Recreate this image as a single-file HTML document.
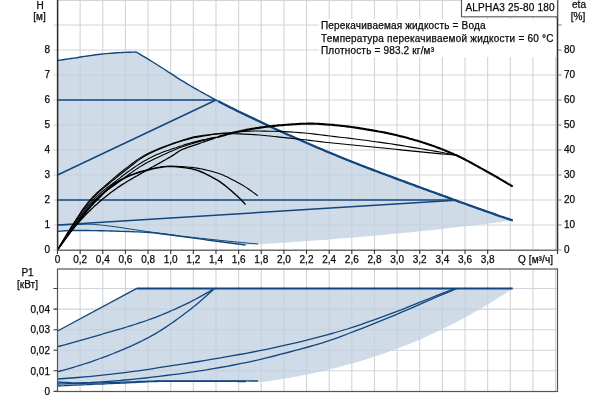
<!DOCTYPE html>
<html lang="ru"><head><meta charset="utf-8"><title>ALPHA3 25-80 180</title>
<style>html,body{margin:0;padding:0;background:#fff}svg{display:block}</style></head>
<body>
<svg width="600" height="400" viewBox="0 0 600 400">
<rect width="600" height="400" fill="#fff"/>
<path d="M80.14,0V250 M80.14,269V391.5 M102.78,0V250 M102.78,269V391.5 M125.42,0V250 M125.42,269V391.5 M148.06,0V250 M148.06,269V391.5 M170.70,0V250 M170.70,269V391.5 M193.34,0V250 M193.34,269V391.5 M215.98,0V250 M215.98,269V391.5 M238.62,0V250 M238.62,269V391.5 M261.26,0V250 M261.26,269V391.5 M283.90,0V250 M283.90,269V391.5 M306.54,0V250 M306.54,269V391.5 M329.18,0V250 M329.18,269V391.5 M351.82,0V250 M351.82,269V391.5 M374.46,0V250 M374.46,269V391.5 M397.10,0V250 M397.10,269V391.5 M419.74,0V250 M419.74,269V391.5 M442.38,0V250 M442.38,269V391.5 M465.02,0V250 M465.02,269V391.5 M487.66,0V250 M487.66,269V391.5 M510.30,0V250 M510.30,269V391.5 M532.94,0V250 M532.94,269V391.5 M555.58,0V250 M555.58,269V391.5 M57.5,0.5H557.5 M53.5,25.0H561.5 M53.5,50.0H561.5 M53.5,75.0H561.5 M53.5,100.0H561.5 M53.5,125.0H561.5 M53.5,150.0H561.5 M53.5,175.0H561.5 M53.5,200.0H561.5 M53.5,225.0H561.5" stroke="#d1d4d8" stroke-width="1.1" fill="none"/>
<path d="M53.5,370.8H557.5 M53.5,350.2H557.5 M53.5,329.7H557.5 M53.5,309.1H557.5 M53.5,288.5H557.5" stroke="#d1d4d8" stroke-width="1.1" fill="none"/>
<rect x="319" y="19" width="238" height="38" fill="#fff"/>
<path d="M57.5,60.5 L60.2,60.1 L62.9,59.7 L65.6,59.3 L68.4,58.9 L71.1,58.5 L73.8,58.1 L76.5,57.7 L79.2,57.2 L81.9,56.8 L84.6,56.4 L87.4,56.0 L90.1,55.6 L92.8,55.2 L95.5,54.8 L98.2,54.5 L100.9,54.2 L103.6,53.9 L106.3,53.6 L109.1,53.4 L111.8,53.2 L114.5,53.0 L117.2,52.8 L119.9,52.6 L122.6,52.5 L125.3,52.4 L128.1,52.3 L130.8,52.2 L133.5,52.1 L136.2,52.0 L139.4,53.9 L142.5,55.8 L145.7,57.7 L148.9,59.6 L152.0,61.5 L155.2,63.5 L158.3,65.5 L161.5,67.5 L164.7,69.5 L167.8,71.6 L171.0,73.6 L174.2,75.7 L177.3,77.8 L180.5,79.8 L183.7,81.7 L186.8,83.6 L190.0,85.5 L193.1,87.3 L196.3,89.1 L199.5,91.0 L202.6,92.7 L205.8,94.5 L209.0,96.2 L212.1,97.9 L215.3,99.6 L218.5,101.3 L221.6,102.9 L224.8,104.6 L228.0,106.2 L231.1,107.8 L234.3,109.3 L237.4,110.9 L240.6,112.4 L243.8,114.0 L246.9,115.5 L250.1,117.0 L253.3,118.5 L256.4,120.0 L259.6,121.5 L262.8,123.0 L265.9,124.5 L269.1,126.0 L272.2,127.5 L275.4,128.9 L278.6,130.4 L281.7,131.8 L284.9,133.3 L288.1,134.7 L291.2,136.1 L294.4,137.5 L297.6,138.9 L300.7,140.3 L303.9,141.7 L307.0,143.1 L310.2,144.4 L313.4,145.8 L316.5,147.2 L319.7,148.5 L322.9,149.8 L326.0,151.2 L329.2,152.5 L332.4,153.8 L335.5,155.1 L338.7,156.4 L341.9,157.7 L345.0,159.0 L348.2,160.3 L351.3,161.5 L354.5,162.8 L357.7,164.0 L360.8,165.3 L364.0,166.5 L367.2,167.7 L370.3,168.9 L373.5,170.1 L376.7,171.3 L379.8,172.5 L383.0,173.7 L386.1,174.8 L389.3,176.0 L392.5,177.2 L395.6,178.4 L398.8,179.6 L402.0,180.7 L405.1,181.9 L408.3,183.1 L411.5,184.2 L414.6,185.4 L417.8,186.6 L420.9,187.7 L424.1,188.9 L427.3,190.0 L430.4,191.2 L433.6,192.3 L436.8,193.5 L439.9,194.6 L443.1,195.8 L446.3,196.9 L449.4,198.1 L452.6,199.3 L455.8,200.4 L458.9,201.6 L462.1,202.7 L465.2,203.8 L468.4,205.0 L471.6,206.1 L474.7,207.2 L477.9,208.4 L481.1,209.5 L484.2,210.6 L487.4,211.7 L490.6,212.8 L493.7,213.9 L496.9,215.1 L500.0,216.2 L503.2,217.2 L506.4,218.3 L509.5,219.4 L512.7,220.5 L512.7,220.5 L508.4,221.1 L504.1,221.6 L499.7,222.2 L495.4,222.7 L491.1,223.2 L486.8,223.8 L482.5,224.3 L478.2,224.8 L473.8,225.3 L469.5,225.8 L465.2,226.3 L460.9,226.8 L456.6,227.3 L452.3,227.8 L447.9,228.3 L443.6,228.8 L439.3,229.2 L435.0,229.7 L430.7,230.2 L426.4,230.6 L422.0,231.1 L417.7,231.5 L413.4,232.0 L409.1,232.4 L404.8,232.8 L400.5,233.3 L396.1,233.7 L391.8,234.1 L387.5,234.5 L383.2,234.9 L378.9,235.3 L374.6,235.7 L370.2,236.1 L365.9,236.5 L361.6,236.8 L357.3,237.2 L353.0,237.6 L348.7,237.9 L344.3,238.3 L340.0,238.6 L335.7,239.0 L331.4,239.3 L327.1,239.7 L322.8,240.0 L318.4,240.3 L314.1,240.6 L309.8,240.9 L305.5,241.2 L301.2,241.5 L296.9,241.8 L292.5,242.1 L288.2,242.4 L283.9,242.7 L279.6,243.0 L275.3,243.2 L271.0,243.5 L266.6,243.8 L262.3,244.0 L258.0,244.3 L258.0,244.0 L245.6,245.0 L245.6,245.0 L241.8,244.5 L237.9,244.0 L234.1,243.5 L230.2,243.0 L226.4,242.5 L222.6,242.0 L218.7,241.5 L214.9,241.0 L211.1,240.5 L207.2,240.0 L203.4,239.4 L199.5,238.9 L195.7,238.4 L191.9,237.9 L188.0,237.4 L184.2,236.9 L180.3,236.4 L176.5,235.8 L172.7,235.3 L168.8,234.8 L165.0,234.3 L161.1,233.7 L157.3,233.2 L153.5,232.8 L149.6,232.5 L145.8,232.3 L142.0,232.1 L138.1,231.9 L134.3,231.8 L130.4,231.6 L126.6,231.5 L122.8,231.4 L118.9,231.3 L115.1,231.1 L111.2,231.0 L107.4,230.9 L103.6,230.8 L99.7,230.7 L95.9,230.6 L92.0,230.6 L88.2,230.5 L84.4,230.5 L80.5,230.5 L76.7,230.5 L72.9,230.5 L69.0,230.6 L65.2,230.8 L61.3,231.1 L57.5,231.4Z" fill="rgba(192,208,224,0.76)"/>
<path d="M57.5,331.0 L136.8,288.4 L512.7,288.4 L512.7,288.4 L508.4,291.3 L504.1,294.2 L499.7,296.9 L495.4,299.7 L491.1,302.4 L486.8,305.0 L482.5,307.6 L478.2,310.1 L473.8,312.6 L469.5,315.0 L465.2,317.4 L460.9,319.7 L456.6,322.0 L452.3,324.2 L447.9,326.4 L443.6,328.5 L439.3,330.6 L435.0,332.7 L430.7,334.6 L426.4,336.6 L422.0,338.5 L417.7,340.4 L413.4,342.2 L409.1,343.9 L404.8,345.7 L400.5,347.3 L396.1,349.0 L391.8,350.6 L387.5,352.2 L383.2,353.7 L378.9,355.2 L374.6,356.6 L370.2,358.0 L365.9,359.4 L361.6,360.7 L357.3,362.0 L353.0,363.2 L348.7,364.4 L344.3,365.6 L340.0,366.8 L335.7,367.9 L331.4,369.0 L327.1,370.0 L322.8,371.0 L318.4,372.0 L314.1,372.9 L309.8,373.9 L305.5,374.7 L301.2,375.6 L296.9,376.4 L292.5,377.2 L288.2,378.0 L283.9,378.7 L279.6,379.4 L275.3,380.1 L271.0,380.8 L266.6,381.4 L262.3,382.0 L258.0,382.6 L258.0,381.0 L246.0,381.5 L246.0,381.5 L242.8,381.5 L239.6,381.5 L236.4,381.4 L233.2,381.4 L230.0,381.4 L226.8,381.4 L223.6,381.4 L220.4,381.4 L217.2,381.3 L214.1,381.3 L210.9,381.3 L207.7,381.3 L204.5,381.3 L201.3,381.3 L198.1,381.3 L194.9,381.3 L191.7,381.3 L188.5,381.3 L185.3,381.3 L182.1,381.3 L178.9,381.3 L175.7,381.3 L172.5,381.3 L169.3,381.3 L166.1,381.3 L162.9,381.4 L159.7,381.4 L156.5,381.5 L153.3,381.6 L150.2,381.7 L147.0,381.9 L143.8,382.0 L140.6,382.1 L137.4,382.3 L134.2,382.5 L131.0,382.6 L127.8,382.8 L124.6,383.0 L121.4,383.1 L118.2,383.3 L115.0,383.4 L111.8,383.5 L108.6,383.7 L105.4,383.8 L102.2,384.0 L99.0,384.1 L95.8,384.2 L92.6,384.4 L89.4,384.5 L86.3,384.7 L83.1,384.8 L79.9,384.9 L76.7,385.1 L73.5,385.2 L70.3,385.4 L67.1,385.5 L63.9,385.7 L60.7,385.8 L57.5,386.0Z" fill="rgba(192,208,224,0.76)"/>
<path d="M57.5,60.5 L60.2,60.1 L62.9,59.7 L65.6,59.3 L68.4,58.9 L71.1,58.5 L73.8,58.1 L76.5,57.7 L79.2,57.2 L81.9,56.8 L84.6,56.4 L87.4,56.0 L90.1,55.6 L92.8,55.2 L95.5,54.8 L98.2,54.5 L100.9,54.2 L103.6,53.9 L106.3,53.6 L109.1,53.4 L111.8,53.2 L114.5,53.0 L117.2,52.8 L119.9,52.6 L122.6,52.5 L125.3,52.4 L128.1,52.3 L130.8,52.2 L133.5,52.1 L136.2,52.0 L139.4,53.9 L142.5,55.8 L145.7,57.7 L148.9,59.6 L152.0,61.5 L155.2,63.5 L158.3,65.5 L161.5,67.5 L164.7,69.5 L167.8,71.6 L171.0,73.6 L174.2,75.7 L177.3,77.8 L180.5,79.8 L183.7,81.7 L186.8,83.6 L190.0,85.5 L193.1,87.3 L196.3,89.1 L199.5,91.0 L202.6,92.7 L205.8,94.5 L209.0,96.2 L212.1,97.9 L215.3,99.6 L218.5,101.3 L221.6,102.9 L224.8,104.6 L228.0,106.2 L231.1,107.8 L234.3,109.3 L237.4,110.9 L240.6,112.4 L243.8,114.0 L246.9,115.5 L250.1,117.0 L253.3,118.5 L256.4,120.0 L259.6,121.5 L262.8,123.0 L265.9,124.5 L269.1,126.0 L272.2,127.5 L275.4,128.9 L278.6,130.4 L281.7,131.8 L284.9,133.3 L288.1,134.7 L291.2,136.1 L294.4,137.5 L297.6,138.9 L300.7,140.3 L303.9,141.7 L307.0,143.1 L310.2,144.4 L313.4,145.8 L316.5,147.2 L319.7,148.5 L322.9,149.8 L326.0,151.2 L329.2,152.5 L332.4,153.8 L335.5,155.1 L338.7,156.4 L341.9,157.7 L345.0,159.0 L348.2,160.3 L351.3,161.5 L354.5,162.8 L357.7,164.0 L360.8,165.3 L364.0,166.5 L367.2,167.7 L370.3,168.9 L373.5,170.1 L376.7,171.3 L379.8,172.5 L383.0,173.7 L386.1,174.8 L389.3,176.0 L392.5,177.2 L395.6,178.4 L398.8,179.6 L402.0,180.7 L405.1,181.9 L408.3,183.1 L411.5,184.2 L414.6,185.4 L417.8,186.6 L420.9,187.7 L424.1,188.9 L427.3,190.0 L430.4,191.2 L433.6,192.3 L436.8,193.5 L439.9,194.6 L443.1,195.8 L446.3,196.9 L449.4,198.1 L452.6,199.3 L455.8,200.4 L458.9,201.6 L462.1,202.7 L465.2,203.8 L468.4,205.0 L471.6,206.1 L474.7,207.2 L477.9,208.4 L481.1,209.5 L484.2,210.6 L487.4,211.7 L490.6,212.8 L493.7,213.9 L496.9,215.1 L500.0,216.2 L503.2,217.2 L506.4,218.3 L509.5,219.4 L512.7,220.5" stroke="#11467f" stroke-width="1.4" fill="none" stroke-linejoin="round"/>
<path d="M218.5,101.3 L221.6,102.9 L224.8,104.6 L228.0,106.2 L231.1,107.8 L234.3,109.3 L237.4,110.9 L240.6,112.4 L243.8,114.0 L246.9,115.5 L250.1,117.0 L253.3,118.5 L256.4,120.0 L259.6,121.5 L262.8,123.0 L265.9,124.5 L269.1,126.0 L272.2,127.5 L275.4,128.9 L278.6,130.4 L281.7,131.8 L284.9,133.3 L288.1,134.7 L291.2,136.1 L294.4,137.5 L297.6,138.9 L300.7,140.3 L303.9,141.7 L307.0,143.1 L310.2,144.4 L313.4,145.8 L316.5,147.2 L319.7,148.5 L322.9,149.8 L326.0,151.2 L329.2,152.5 L332.4,153.8 L335.5,155.1 L338.7,156.4 L341.9,157.7 L345.0,159.0 L348.2,160.3 L351.3,161.5 L354.5,162.8 L357.7,164.0 L360.8,165.3 L364.0,166.5 L367.2,167.7 L370.3,168.9 L373.5,170.1 L376.7,171.3 L379.8,172.5 L383.0,173.7 L386.1,174.8 L389.3,176.0 L392.5,177.2 L395.6,178.4 L398.8,179.6 L402.0,180.7 L405.1,181.9 L408.3,183.1 L411.5,184.2 L414.6,185.4 L417.8,186.6 L420.9,187.7 L424.1,188.9 L427.3,190.0 L430.4,191.2 L433.6,192.3 L436.8,193.5 L439.9,194.6 L443.1,195.8 L446.3,196.9 L449.4,198.1 L452.6,199.3 L455.8,200.4 L458.9,201.6 L462.1,202.7 L465.2,203.8 L468.4,205.0 L471.6,206.1 L474.7,207.2 L477.9,208.4 L481.1,209.5 L484.2,210.6 L487.4,211.7 L490.6,212.8 L493.7,213.9 L496.9,215.1 L500.0,216.2 L503.2,217.2 L506.4,218.3 L509.5,219.4 L512.7,220.5" stroke="#11467f" stroke-width="2.2" fill="none" stroke-linejoin="round"/>
<path d="M57.5,100H216" stroke="#11467f" stroke-width="1.6" fill="none" stroke-linejoin="round"/>
<path d="M57.5,175L216,100" stroke="#11467f" stroke-width="1.4" fill="none" stroke-linejoin="round"/>
<path d="M57.5,200H456" stroke="#11467f" stroke-width="1.5" fill="none" stroke-linejoin="round"/>
<path d="M57.5,225L456,200.3" stroke="#11467f" stroke-width="1.4" fill="none" stroke-linejoin="round"/>
<path d="M57.5,231.4 L61.3,231.1 L65.2,230.8 L69.0,230.6 L72.9,230.5 L76.7,230.5 L80.5,230.5 L84.4,230.5 L88.2,230.5 L92.0,230.6 L95.9,230.6 L99.7,230.7 L103.6,230.8 L107.4,230.9 L111.2,231.0 L115.1,231.1 L118.9,231.3 L122.8,231.4 L126.6,231.5 L130.4,231.6 L134.3,231.8 L138.1,231.9 L142.0,232.1 L145.8,232.3 L149.6,232.5 L153.5,232.8 L157.3,233.2 L161.1,233.7 L165.0,234.3 L168.8,234.8 L172.7,235.3 L176.5,235.8 L180.3,236.4 L184.2,236.9 L188.0,237.4 L191.9,237.9 L195.7,238.4 L199.5,238.9 L203.4,239.4 L207.2,240.0 L211.1,240.5 L214.9,241.0 L218.7,241.5 L222.6,242.0 L226.4,242.5 L230.2,243.0 L234.1,243.5 L237.9,244.0 L241.8,244.5 L245.6,245.0" stroke="#11467f" stroke-width="1.4" fill="none" stroke-linejoin="round"/>
<path d="M57.5,225.0 L61.6,224.9 L65.7,224.8 L69.8,224.7 L73.9,224.6 L78.0,224.5 L82.1,224.4 L86.1,224.2 L90.2,224.2 L94.3,224.4 L98.4,224.8 L102.5,225.2 L106.6,225.7 L110.7,226.2 L114.8,226.7 L118.9,227.3 L123.0,227.9 L127.1,228.6 L131.2,229.2 L135.2,229.8 L139.3,230.4 L143.4,231.0 L147.5,231.6 L151.6,232.2 L155.7,232.8 L159.8,233.3 L163.9,233.8 L168.0,234.3 L172.1,234.9 L176.2,235.4 L180.3,235.9 L184.3,236.4 L188.4,236.9 L192.5,237.4 L196.6,237.8 L200.7,238.3 L204.8,238.7 L208.9,239.2 L213.0,239.6 L217.1,240.0 L221.2,240.5 L225.3,240.9 L229.4,241.3 L233.4,241.7 L237.5,242.1 L241.6,242.5 L245.7,242.9 L249.8,243.3 L253.9,243.6 L258.0,244.0" stroke="#11467f" stroke-width="1.0" fill="none" stroke-linejoin="round"/>
<path d="M57.5,331L136.8,288.4" stroke="#11467f" stroke-width="1.4" fill="none" stroke-linejoin="round"/>
<path d="M136.8,288.4H512.7" stroke="#11467f" stroke-width="2.0" fill="none" stroke-linejoin="round"/>
<path d="M57.5,346.7 L60.2,346.0 L62.8,345.3 L65.5,344.6 L68.1,343.8 L70.8,343.1 L73.5,342.4 L76.1,341.6 L78.8,340.9 L81.4,340.1 L84.1,339.4 L86.8,338.6 L89.4,337.9 L92.1,337.1 L94.8,336.3 L97.4,335.6 L100.1,334.8 L102.7,334.0 L105.4,333.2 L108.1,332.4 L110.7,331.7 L113.4,330.9 L116.0,330.1 L118.7,329.3 L121.4,328.6 L124.0,327.8 L126.7,327.0 L129.3,326.1 L132.0,325.3 L134.7,324.5 L137.3,323.6 L140.0,322.7 L142.7,321.9 L145.3,321.0 L148.0,320.0 L150.6,319.1 L153.3,318.1 L156.0,317.1 L158.6,316.1 L161.3,315.0 L163.9,313.9 L166.6,312.8 L169.3,311.7 L171.9,310.5 L174.6,309.4 L177.2,308.2 L179.9,306.9 L182.6,305.7 L185.2,304.4 L187.9,303.1 L190.6,301.8 L193.2,300.4 L195.9,299.0 L198.5,297.6 L201.2,296.1 L203.9,294.6 L206.5,293.1 L209.2,291.6 L211.8,290.0 L214.5,288.4" stroke="#11467f" stroke-width="1.3" fill="none" stroke-linejoin="round"/>
<path d="M57.5,371.7 L60.2,371.0 L62.8,370.3 L65.5,369.6 L68.1,368.9 L70.8,368.1 L73.5,367.3 L76.1,366.5 L78.8,365.7 L81.4,364.9 L84.1,364.0 L86.8,363.2 L89.4,362.3 L92.1,361.4 L94.8,360.4 L97.4,359.5 L100.1,358.5 L102.7,357.6 L105.4,356.6 L108.1,355.6 L110.7,354.5 L113.4,353.5 L116.0,352.4 L118.7,351.3 L121.4,350.2 L124.0,349.1 L126.7,347.9 L129.3,346.8 L132.0,345.6 L134.7,344.3 L137.3,343.1 L140.0,341.8 L142.7,340.5 L145.3,339.1 L148.0,337.8 L150.6,336.4 L153.3,334.9 L156.0,333.4 L158.6,331.8 L161.3,330.1 L163.9,328.4 L166.6,326.6 L169.3,324.8 L171.9,323.0 L174.6,321.1 L177.2,319.2 L179.9,317.3 L182.6,315.3 L185.2,313.3 L187.9,311.3 L190.6,309.2 L193.2,307.1 L195.9,304.9 L198.5,302.7 L201.2,300.4 L203.9,298.1 L206.5,295.7 L209.2,293.3 L211.8,290.9 L214.5,288.4" stroke="#11467f" stroke-width="1.3" fill="none" stroke-linejoin="round"/>
<path d="M57.5,379.0 L64.2,378.5 L71.0,378.0 L77.7,377.5 L84.4,376.9 L91.2,376.3 L97.9,375.6 L104.7,374.9 L111.4,374.2 L118.1,373.4 L124.9,372.6 L131.6,371.7 L138.3,370.8 L145.1,369.8 L151.8,368.8 L158.6,367.7 L165.3,366.7 L172.0,365.7 L178.8,364.7 L185.5,363.6 L192.2,362.5 L199.0,361.5 L205.7,360.4 L212.5,359.2 L219.2,358.1 L225.9,356.9 L232.7,355.7 L239.4,354.5 L246.1,353.3 L252.9,352.0 L259.6,350.7 L266.4,349.3 L273.1,347.9 L279.8,346.4 L286.6,344.9 L293.3,343.4 L300.0,341.8 L306.8,340.1 L313.5,338.4 L320.3,336.6 L327.0,334.8 L333.7,333.0 L340.5,331.0 L347.2,329.0 L353.9,326.8 L360.7,324.6 L367.4,322.2 L374.2,319.8 L380.9,317.4 L387.6,314.9 L394.4,312.3 L401.1,309.8 L407.8,307.1 L414.6,304.4 L421.3,301.7 L428.1,299.0 L434.8,296.3 L441.5,293.6 L448.3,291.0 L455.0,288.4" stroke="#11467f" stroke-width="1.3" fill="none" stroke-linejoin="round"/>
<path d="M57.5,382.0 L64.3,382.4 L71.0,382.7 L77.8,382.8 L84.6,382.7 L91.4,382.5 L98.1,382.1 L104.9,381.6 L111.7,381.1 L118.4,380.6 L125.2,380.0 L132.0,379.4 L138.8,378.7 L145.5,378.0 L152.3,377.2 L159.1,376.4 L165.8,375.5 L172.6,374.7 L179.4,373.8 L186.2,372.8 L192.9,371.9 L199.7,370.8 L206.5,369.8 L213.2,368.6 L220.0,367.5 L226.8,366.3 L233.6,365.0 L240.3,363.7 L247.1,362.4 L253.9,360.9 L260.6,359.3 L267.4,357.7 L274.2,356.0 L280.9,354.2 L287.7,352.5 L294.5,350.7 L301.3,348.9 L308.0,347.0 L314.8,345.1 L321.6,343.1 L328.3,340.9 L335.1,338.6 L341.9,336.1 L348.7,333.5 L355.4,330.9 L362.2,328.3 L369.0,325.6 L375.7,322.9 L382.5,320.1 L389.3,317.4 L396.1,314.6 L402.8,311.7 L409.6,308.8 L416.4,305.9 L423.1,302.9 L429.9,299.9 L436.7,297.0 L443.5,294.1 L450.2,291.3 L457.0,288.4" stroke="#11467f" stroke-width="1.3" fill="none" stroke-linejoin="round"/>
<path d="M57.5,384.0 L60.9,383.9 L64.3,383.8 L67.7,383.7 L71.1,383.6 L74.5,383.6 L77.9,383.5 L81.3,383.4 L84.7,383.3 L88.1,383.2 L91.5,383.1 L94.9,383.0 L98.3,382.9 L101.7,382.8 L105.1,382.7 L108.5,382.6 L111.9,382.5 L115.3,382.4 L118.7,382.3 L122.1,382.2 L125.5,382.1 L128.9,381.9 L132.3,381.8 L135.7,381.7 L139.1,381.5 L142.5,381.4 L145.9,381.3 L149.3,381.2 L152.7,381.1 L156.1,381.0 L159.4,380.9 L162.8,380.9 L166.2,380.8 L169.6,380.8 L173.0,380.8 L176.4,380.8 L179.8,380.8 L183.2,380.8 L186.6,380.8 L190.0,380.8 L193.4,380.8 L196.8,380.8 L200.2,380.8 L203.6,380.8 L207.0,380.8 L210.4,380.8 L213.8,380.8 L217.2,380.8 L220.6,380.8 L224.0,380.8 L227.4,380.9 L230.8,380.9 L234.2,380.9 L237.6,380.9 L241.0,380.9 L244.4,380.9 L247.8,380.9 L251.2,381.0 L254.6,381.0 L258.0,381.0" stroke="#11467f" stroke-width="1.3" fill="none" stroke-linejoin="round"/>
<path d="M57.5,386.0 L60.7,385.8 L63.9,385.7 L67.1,385.5 L70.3,385.4 L73.5,385.2 L76.7,385.1 L79.9,384.9 L83.1,384.8 L86.3,384.7 L89.4,384.5 L92.6,384.4 L95.8,384.2 L99.0,384.1 L102.2,384.0 L105.4,383.8 L108.6,383.7 L111.8,383.5 L115.0,383.4 L118.2,383.3 L121.4,383.1 L124.6,383.0 L127.8,382.8 L131.0,382.6 L134.2,382.5 L137.4,382.3 L140.6,382.1 L143.8,382.0 L147.0,381.9 L150.2,381.7 L153.3,381.6 L156.5,381.5 L159.7,381.4 L162.9,381.4 L166.1,381.3 L169.3,381.3 L172.5,381.3 L175.7,381.3 L178.9,381.3 L182.1,381.3 L185.3,381.3 L188.5,381.3 L191.7,381.3 L194.9,381.3 L198.1,381.3 L201.3,381.3 L204.5,381.3 L207.7,381.3 L210.9,381.3 L214.1,381.3 L217.2,381.3 L220.4,381.4 L223.6,381.4 L226.8,381.4 L230.0,381.4 L233.2,381.4 L236.4,381.4 L239.6,381.5 L242.8,381.5 L246.0,381.5" stroke="#11467f" stroke-width="1.3" fill="none" stroke-linejoin="round"/>
<path d="M57.5,250.0 L62.5,241.2 L67.6,232.8 L72.6,224.8 L77.7,217.0 L82.7,209.4 L87.8,202.6 L92.8,196.9 L97.9,192.0 L102.9,187.6 L108.0,183.1 L113.0,178.8 L118.1,174.5 L123.1,170.5 L128.2,166.6 L133.2,162.7 L138.2,159.1 L143.3,155.9 L148.3,153.3 L153.4,150.9 L158.4,148.8 L163.5,146.8 L168.5,144.9 L173.6,143.1 L178.6,141.5 L183.7,139.8 L188.7,138.2 L193.8,136.9 L198.8,136.1 L203.9,135.3 L208.9,134.7 L214.0,134.1 L219.0,133.6 L224.0,133.1 L229.1,132.7 L234.1,132.2 L239.2,131.8 L244.2,131.4 L249.3,131.1 L254.3,131.0 L259.4,131.0 L264.4,131.1 L269.5,131.2 L274.5,131.3 L279.6,131.4 L284.6,131.6 L289.7,131.9 L294.7,132.2 L299.7,132.6 L304.8,133.0 L309.8,133.5 L314.9,134.1 L319.9,134.8 L325.0,135.4 L330.0,136.0 L335.1,136.6 L340.1,137.2 L345.2,137.8 L350.2,138.4 L355.3,139.0 L360.3,139.7 L365.4,140.3 L370.4,141.0 L375.5,141.7 L380.5,142.4 L385.5,143.1 L390.6,143.8 L395.6,144.6 L400.7,145.4 L405.7,146.2 L410.8,147.1 L415.8,147.9 L420.9,148.7 L425.9,149.6 L431.0,150.5 L436.0,151.4 L441.1,152.3 L446.1,153.3 L451.2,154.2 L456.2,155.2" stroke="#000" stroke-width="1.1" fill="none" stroke-linejoin="round"/>
<path d="M57.5,250.0 L62.5,241.5 L67.6,233.3 L72.6,225.5 L77.7,218.0 L82.7,210.6 L87.8,203.8 L92.8,198.0 L97.9,193.1 L102.9,188.7 L108.0,184.5 L113.0,180.2 L118.1,176.2 L123.1,172.2 L128.2,168.3 L133.2,164.3 L138.2,160.4 L143.3,157.0 L148.3,154.2 L153.4,151.8 L158.4,149.6 L163.5,147.5 L168.5,145.6 L173.6,143.8 L178.6,142.1 L183.7,140.5 L188.7,139.1 L193.8,137.8 L198.8,136.9 L203.9,135.9 L208.9,135.1 L214.0,134.3 L219.0,133.8 L224.0,133.6 L229.1,133.6 L234.1,133.7 L239.2,133.9 L244.2,134.1 L249.3,134.4 L254.3,134.6 L259.4,135.0 L264.4,135.5 L269.5,136.0 L274.5,136.5 L279.6,137.1 L284.6,137.6 L289.7,138.1 L294.7,138.7 L299.7,139.3 L304.8,139.8 L309.8,140.4 L314.9,141.0 L319.9,141.6 L325.0,142.2 L330.0,142.7 L335.1,143.2 L340.1,143.8 L345.2,144.3 L350.2,144.8 L355.3,145.3 L360.3,145.7 L365.4,146.2 L370.4,146.7 L375.5,147.2 L380.5,147.8 L385.5,148.3 L390.6,148.8 L395.6,149.3 L400.7,149.9 L405.7,150.4 L410.8,150.9 L415.8,151.4 L420.9,151.9 L425.9,152.4 L431.0,152.9 L436.0,153.4 L441.1,153.9 L446.1,154.3 L451.2,154.8 L456.2,155.2" stroke="#000" stroke-width="1.1" fill="none" stroke-linejoin="round"/>
<path d="M57.5,250.0 L59.5,246.8 L61.5,243.6 L63.5,240.5 L65.5,237.4 L67.5,234.4 L69.5,231.4 L71.5,228.5 L73.6,225.6 L75.6,222.8 L77.6,219.9 L79.6,217.1 L81.6,214.2 L83.6,211.5 L85.6,208.8 L87.6,206.2 L89.6,203.8 L91.6,201.5 L93.6,199.4 L95.6,197.4 L97.6,195.6 L99.6,193.8 L101.6,192.1 L103.6,190.5 L105.7,188.9 L107.7,187.3 L109.7,185.8 L111.7,184.3 L113.7,182.7 L115.7,181.1 L117.7,179.6 L119.7,178.1 L121.7,176.5 L123.7,175.0 L125.7,173.5 L127.7,172.0 L129.7,170.6 L131.7,169.2 L133.7,167.8 L135.7,166.4 L137.8,165.1 L139.8,163.8 L141.8,162.5 L143.8,161.3 L145.8,160.2 L147.8,159.0 L149.8,158.0 L151.8,156.9 L153.8,156.0 L155.8,155.1 L157.8,154.2 L159.8,153.4 L161.8,152.6 L163.8,151.8 L165.8,151.1 L167.8,150.4 L169.9,149.7 L171.9,149.0 L173.9,148.3 L175.9,147.7 L177.9,147.0 L179.9,146.3 L181.9,145.7 L183.9,145.0 L185.9,144.4 L187.9,143.8 L189.9,143.2 L191.9,142.6 L193.9,142.1 L195.9,141.6 L197.9,141.1 L199.9,140.6 L202.0,140.1 L204.0,139.6 L206.0,139.2 L208.0,138.7 L210.0,138.3 L212.0,137.9 L214.0,137.6 L216.0,137.2" stroke="#000" stroke-width="1.1" fill="none" stroke-linejoin="round"/>
<path d="M57.5,250.0 L59.5,247.0 L61.5,244.0 L63.5,241.1 L65.5,238.2 L67.5,235.3 L69.5,232.5 L71.5,229.7 L73.6,226.9 L75.6,224.3 L77.6,221.5 L79.6,218.8 L81.6,216.1 L83.6,213.4 L85.6,210.8 L87.6,208.2 L89.6,205.8 L91.6,203.5 L93.6,201.4 L95.6,199.4 L97.6,197.6 L99.6,195.9 L101.6,194.3 L103.6,192.8 L105.7,191.3 L107.7,189.9 L109.7,188.5 L111.7,187.1 L113.7,185.7 L115.7,184.2 L117.7,182.8 L119.7,181.3 L121.7,179.8 L123.7,178.3 L125.7,176.8 L127.7,175.3 L129.7,173.8 L131.7,172.4 L133.7,171.0 L135.7,169.6 L137.8,168.2 L139.8,166.9 L141.8,165.7 L143.8,164.5 L145.8,163.3 L147.8,162.2 L149.8,161.2 L151.8,160.2 L153.8,159.2 L155.8,158.3 L157.8,157.4 L159.8,156.4 L161.8,155.5 L163.8,154.6 L165.8,153.7 L167.8,152.8 L169.9,151.8 L171.9,150.9 L173.9,150.1 L175.9,149.2 L177.9,148.4 L179.9,147.6 L181.9,146.9 L183.9,146.2 L185.9,145.6 L187.9,144.9 L189.9,144.3 L191.9,143.7 L193.9,143.1 L195.9,142.5 L197.9,141.9 L199.9,141.4 L202.0,140.8 L204.0,140.3 L206.0,139.7 L208.0,139.2 L210.0,138.7 L212.0,138.2 L214.0,137.7 L216.0,137.2" stroke="#000" stroke-width="1.1" fill="none" stroke-linejoin="round"/>
<path d="M57.5,250.0 L60.0,246.3 L62.6,242.7 L65.1,239.1 L67.6,235.5 L70.2,232.1 L72.7,228.7 L75.3,225.3 L77.8,222.0 L80.3,218.7 L82.9,215.4 L85.4,212.2 L87.9,209.0 L90.5,206.0 L93.0,203.1 L95.6,200.5 L98.1,197.9 L100.6,195.4 L103.2,193.0 L105.7,190.6 L108.2,188.4 L110.8,186.3 L113.3,184.3 L115.8,182.5 L118.4,180.9 L120.9,179.5 L123.5,178.2 L126.0,177.0 L128.5,175.9 L131.1,174.8 L133.6,173.9 L136.1,173.0 L138.7,172.1 L141.2,171.4 L143.7,170.7 L146.3,170.1 L148.8,169.5 L151.4,168.9 L153.9,168.3 L156.4,167.8 L159.0,167.3 L161.5,166.9 L164.0,166.5 L166.6,166.3 L169.1,166.2 L171.7,166.2 L174.2,166.3 L176.7,166.4 L179.3,166.5 L181.8,166.6 L184.3,166.8 L186.9,167.0 L189.4,167.2 L191.9,167.4 L194.5,167.7 L197.0,168.1 L199.6,168.6 L202.1,169.0 L204.6,169.6 L207.2,170.2 L209.7,170.8 L212.2,171.5 L214.8,172.2 L217.3,173.0 L219.8,173.8 L222.4,174.8 L224.9,175.9 L227.5,177.1 L230.0,178.4 L232.5,179.7 L235.1,181.0 L237.6,182.4 L240.1,183.8 L242.7,185.3 L245.2,186.9 L247.8,188.5 L250.3,190.3 L252.8,192.1 L255.4,194.0 L257.9,195.9" stroke="#000" stroke-width="1.1" fill="none" stroke-linejoin="round"/>
<path d="M57.5,250.0 L59.9,246.6 L62.3,243.3 L64.6,240.0 L67.0,236.8 L69.4,233.6 L71.8,230.4 L74.2,227.3 L76.5,224.3 L78.9,221.3 L81.3,218.3 L83.7,215.3 L86.1,212.3 L88.5,209.4 L90.8,206.6 L93.2,204.0 L95.6,201.4 L98.0,199.0 L100.4,196.7 L102.7,194.3 L105.1,192.0 L107.5,189.8 L109.9,187.7 L112.3,185.7 L114.6,183.9 L117.0,182.3 L119.4,180.8 L121.8,179.6 L124.2,178.4 L126.5,177.2 L128.9,176.2 L131.3,175.2 L133.7,174.3 L136.1,173.4 L138.5,172.6 L140.8,171.9 L143.2,171.2 L145.6,170.7 L148.0,170.1 L150.4,169.5 L152.7,168.9 L155.1,168.4 L157.5,167.9 L159.9,167.5 L162.3,167.1 L164.6,166.8 L167.0,166.6 L169.4,166.5 L171.8,166.5 L174.2,166.6 L176.6,166.8 L178.9,167.0 L181.3,167.3 L183.7,167.6 L186.1,167.9 L188.5,168.3 L190.8,168.6 L193.2,169.2 L195.6,169.8 L198.0,170.6 L200.4,171.5 L202.7,172.5 L205.1,173.6 L207.5,174.8 L209.9,176.0 L212.3,177.3 L214.6,178.6 L217.0,179.9 L219.4,181.4 L221.8,183.1 L224.2,184.9 L226.6,186.7 L228.9,188.7 L231.3,190.8 L233.7,192.9 L236.1,195.1 L238.5,197.3 L240.8,199.6 L243.2,202.0 L245.6,204.6" stroke="#000" stroke-width="1.4" fill="none" stroke-linejoin="round"/>
<path d="M57.5,250.0 L59.0,247.7 L60.5,245.5 L62.1,243.3 L63.6,241.1 L65.1,239.0 L66.6,237.0 L68.2,235.0 L69.7,233.0 L71.2,231.1 L72.7,229.3 L74.2,227.4 L75.8,225.6 L77.3,223.9 L78.8,222.2 L80.3,220.5 L81.9,218.8 L83.4,217.2 L84.9,215.6 L86.4,214.0 L87.9,212.5 L89.5,211.0 L91.0,209.5 L92.5,208.1 L94.0,206.6 L95.6,205.2 L97.1,203.9 L98.6,202.5 L100.1,201.2 L101.6,199.9 L103.2,198.6 L104.7,197.4 L106.2,196.2 L107.7,195.0 L109.3,193.8 L110.8,192.6 L112.3,191.5 L113.8,190.4 L115.4,189.3 L116.9,188.2 L118.4,187.1 L119.9,186.1 L121.4,185.1 L123.0,184.1 L124.5,183.2 L126.0,182.2 L127.5,181.3 L129.1,180.4 L130.6,179.5 L132.1,178.6 L133.6,177.7 L135.1,176.8 L136.7,176.0 L138.2,175.1 L139.7,174.2 L141.2,173.4 L142.8,172.5 L144.3,171.6 L145.8,170.7 L147.3,169.9 L148.8,169.0 L150.4,168.1 L151.9,167.3 L153.4,166.5 L154.9,165.6 L156.5,164.8 L158.0,163.9 L159.5,163.1 L161.0,162.3 L162.5,161.4 L164.1,160.5 L165.6,159.7 L167.1,158.8 L168.6,157.9 L170.2,157.0 L171.7,156.1 L173.2,155.1 L174.7,154.2 L176.2,153.1 L177.8,152.0 L179.3,151.0 L180.8,150.2 L182.3,149.5 L183.9,148.9 L185.4,148.3 L186.9,147.7 L188.4,147.2 L189.9,146.7 L191.5,146.2 L193.0,145.7 L194.5,145.2 L196.0,144.6 L197.6,144.1 L199.1,143.6 L200.6,143.0 L202.1,142.5 L203.7,141.9 L205.2,141.4 L206.7,140.9 L208.2,140.3 L209.7,139.8 L211.3,139.3 L212.8,138.8 L214.3,138.2 L215.8,137.7 L217.4,137.2" stroke="#000" stroke-width="1.3" fill="none" stroke-linejoin="round"/>
<path d="M217.4,137.2 L218.9,136.8 L220.4,136.3 L221.9,135.8 L223.4,135.4 L225.0,134.9 L226.5,134.5 L228.0,134.1 L229.5,133.7 L231.1,133.3 L232.6,132.9 L234.1,132.6 L235.6,132.2 L237.1,131.9 L238.7,131.5 L240.2,131.2 L241.7,130.9 L243.2,130.5 L244.8,130.2 L246.3,129.9 L247.8,129.6 L249.3,129.4 L250.8,129.1 L252.4,128.8 L253.9,128.6 L255.4,128.3 L256.9,128.1 L258.5,127.9 L260.0,127.6 L261.5,127.4 L263.0,127.2 L264.5,127.0 L266.1,126.8 L267.6,126.6 L269.1,126.4 L270.6,126.2 L272.2,126.1 L273.7,125.9 L275.2,125.7 L276.7,125.6 L278.2,125.4 L279.8,125.3 L281.3,125.2 L282.8,125.1 L284.3,125.0 L285.9,124.8 L287.4,124.7 L288.9,124.6 L290.4,124.5 L292.0,124.4 L293.5,124.3 L295.0,124.2 L296.5,124.1 L298.0,124.0 L299.6,123.9 L301.1,123.8 L302.6,123.8 L304.1,123.7 L305.7,123.7 L307.2,123.6 L308.7,123.6 L310.2,123.6 L311.7,123.6 L313.3,123.6 L314.8,123.7 L316.3,123.8 L317.8,123.8 L319.4,123.9 L320.9,124.0 L322.4,124.1 L323.9,124.2 L325.4,124.4 L327.0,124.5 L328.5,124.6 L330.0,124.7 L331.5,124.8 L333.1,124.9 L334.6,125.1 L336.1,125.2 L337.6,125.4 L339.1,125.5 L340.7,125.7 L342.2,125.9 L343.7,126.0 L345.2,126.2 L346.8,126.4 L348.3,126.6 L349.8,126.8 L351.3,127.0 L352.8,127.2 L354.4,127.4 L355.9,127.7 L357.4,127.9 L358.9,128.1 L360.5,128.4 L362.0,128.6 L363.5,128.9 L365.0,129.1 L366.5,129.4 L368.1,129.6 L369.6,129.9 L371.1,130.1 L372.6,130.4 L374.2,130.7 L375.7,130.9 L377.2,131.2 L378.7,131.5 L380.3,131.7 L381.8,132.0 L383.3,132.3 L384.8,132.6 L386.3,132.9 L387.9,133.2 L389.4,133.6 L390.9,133.9 L392.4,134.2 L394.0,134.6 L395.5,134.9 L397.0,135.3 L398.5,135.7 L400.0,136.1 L401.6,136.4 L403.1,136.8 L404.6,137.2 L406.1,137.6 L407.7,138.0 L409.2,138.5 L410.7,138.9 L412.2,139.3 L413.7,139.7 L415.3,140.2 L416.8,140.6 L418.3,141.1 L419.8,141.5 L421.4,142.0 L422.9,142.5 L424.4,142.9 L425.9,143.4 L427.4,143.9 L429.0,144.5 L430.5,145.0 L432.0,145.5 L433.5,146.1 L435.1,146.6 L436.6,147.2 L438.1,147.7 L439.6,148.3 L441.1,148.9 L442.7,149.5 L444.2,150.1 L445.7,150.7 L447.2,151.4 L448.8,152.0 L450.3,152.6 L451.8,153.3 L453.3,153.9 L454.8,154.6 L456.4,155.3 L457.9,156.0 L459.4,156.7 L460.9,157.4 L462.5,158.2 L464.0,159.0 L465.5,159.8 L467.0,160.6 L468.6,161.4 L470.1,162.2 L471.6,163.0 L473.1,163.9 L474.6,164.7 L476.2,165.6 L477.7,166.4 L479.2,167.3 L480.7,168.1 L482.3,168.9 L483.8,169.8 L485.3,170.6 L486.8,171.5 L488.3,172.3 L489.9,173.2 L491.4,174.0 L492.9,174.9 L494.4,175.8 L496.0,176.6 L497.5,177.5 L499.0,178.4 L500.5,179.3 L502.0,180.2 L503.6,181.1 L505.1,182.0 L506.6,182.9 L508.1,183.8 L509.7,184.7 L511.2,185.6 L512.7,186.5" stroke="#000" stroke-width="2.1" fill="none" stroke-linejoin="round"/>
<path d="M53.5,250H57.5" stroke="#d1d4d8" stroke-width="1.1" fill="none"/>
<path d="M57.6,0V250.5 M557.5,0V250.5" stroke="#2a2a2a" stroke-width="1.5" fill="none"/>
<path d="M57,250.2H558" stroke="#6e6e6e" stroke-width="1.6" fill="none"/>
<path d="M57.50,250V254 M80.14,250V254 M102.78,250V254 M125.42,250V254 M148.06,250V254 M170.70,250V254 M193.34,250V254 M215.98,250V254 M238.62,250V254 M261.26,250V254 M283.90,250V254 M306.54,250V254 M329.18,250V254 M351.82,250V254 M374.46,250V254 M397.10,250V254 M419.74,250V254 M442.38,250V254 M465.02,250V254 M487.66,250V254 M557.5,250V254" stroke="#333" stroke-width="1.1" fill="none"/>
<path d="M558,25H561.5 M558,50H561.5 M558,75H561.5 M558,100H561.5 M558,125H561.5 M558,150H561.5 M558,175H561.5 M558,200H561.5 M558,225H561.5 M558,250H561.5" stroke="#8c8c8c" stroke-width="1.1" fill="none"/>
<rect x="57.5" y="269" width="500" height="122.5" fill="none" stroke="#555" stroke-width="1.2"/>
<path d="M53.5,391.4H57.5 M53.5,370.8H57.5 M53.5,350.2H57.5 M53.5,329.7H57.5 M53.5,309.1H57.5 M53.5,288.5H57.5" stroke="#444" stroke-width="1.1" fill="none"/>
<rect x="461.5" y="-1" width="96" height="17.8" fill="#fff" stroke="#555" stroke-width="1.1"/>
<g font-family="'Liberation Sans', Arial, sans-serif" font-size="10px" fill="#0a0a0a" stroke="#0a0a0a" stroke-width="0.25">
<text x="465.5" y="10.5" text-anchor="start" textLength="89" lengthAdjust="spacing">ALPHA3 25-80 180</text>
<text x="321" y="28.9" text-anchor="start" textLength="164.5" lengthAdjust="spacing">Перекачиваемая жидкость = Вода</text>
<text x="321" y="41.9" text-anchor="start" textLength="232.5" lengthAdjust="spacing">Температура перекачиваемой жидкости = 60 °C</text>
<text x="321" y="53.9" text-anchor="start" textLength="113" lengthAdjust="spacing">Плотность = 983.2 кг/м³</text>
<text x="40.2" y="8.5" text-anchor="middle">H</text>
<text x="39.5" y="20" text-anchor="middle">[м]</text>
<text x="579" y="8.3" text-anchor="middle">eta</text>
<text x="578" y="20" text-anchor="middle">[%]</text>
<text x="50" y="253.4" text-anchor="end">0</text>
<text x="564" y="253.4" text-anchor="start">0</text>
<text x="50" y="228.4" text-anchor="end">1</text>
<text x="564" y="228.4" text-anchor="start">10</text>
<text x="50" y="203.4" text-anchor="end">2</text>
<text x="564" y="203.4" text-anchor="start">20</text>
<text x="50" y="178.4" text-anchor="end">3</text>
<text x="564" y="178.4" text-anchor="start">30</text>
<text x="50" y="153.4" text-anchor="end">4</text>
<text x="564" y="153.4" text-anchor="start">40</text>
<text x="50" y="128.4" text-anchor="end">5</text>
<text x="564" y="128.4" text-anchor="start">50</text>
<text x="50" y="103.4" text-anchor="end">6</text>
<text x="564" y="103.4" text-anchor="start">60</text>
<text x="50" y="78.4" text-anchor="end">7</text>
<text x="564" y="78.4" text-anchor="start">70</text>
<text x="50" y="53.400000000000006" text-anchor="end">8</text>
<text x="564" y="53.400000000000006" text-anchor="start">80</text>
<text x="57.5" y="263.1" text-anchor="middle">0</text>
<text x="80.1" y="263.1" text-anchor="middle">0,2</text>
<text x="102.8" y="263.1" text-anchor="middle">0,4</text>
<text x="125.4" y="263.1" text-anchor="middle">0,6</text>
<text x="148.1" y="263.1" text-anchor="middle">0,8</text>
<text x="170.7" y="263.1" text-anchor="middle">1,0</text>
<text x="193.3" y="263.1" text-anchor="middle">1,2</text>
<text x="216.0" y="263.1" text-anchor="middle">1,4</text>
<text x="238.6" y="263.1" text-anchor="middle">1,6</text>
<text x="261.3" y="263.1" text-anchor="middle">1,8</text>
<text x="283.9" y="263.1" text-anchor="middle">2,0</text>
<text x="306.5" y="263.1" text-anchor="middle">2,2</text>
<text x="329.2" y="263.1" text-anchor="middle">2,4</text>
<text x="351.8" y="263.1" text-anchor="middle">2,6</text>
<text x="374.5" y="263.1" text-anchor="middle">2,8</text>
<text x="397.1" y="263.1" text-anchor="middle">3,0</text>
<text x="419.7" y="263.1" text-anchor="middle">3,2</text>
<text x="442.4" y="263.1" text-anchor="middle">3,4</text>
<text x="465.0" y="263.1" text-anchor="middle">3,6</text>
<text x="487.7" y="263.1" text-anchor="middle">3,8</text>
<text x="518" y="263.1" text-anchor="start" textLength="35" lengthAdjust="spacing">Q [м³/ч]</text>
<text x="27.5" y="276" text-anchor="middle">P1</text>
<text x="27.5" y="288" text-anchor="middle">[кВт]</text>
<text x="50" y="395.09999999999997" text-anchor="end">0</text>
<text x="50" y="374.52" text-anchor="end">0,01</text>
<text x="50" y="353.93999999999994" text-anchor="end">0,02</text>
<text x="50" y="333.35999999999996" text-anchor="end">0,03</text>
<text x="50" y="312.78" text-anchor="end">0,04</text>
</g>
</svg>
</body></html>
